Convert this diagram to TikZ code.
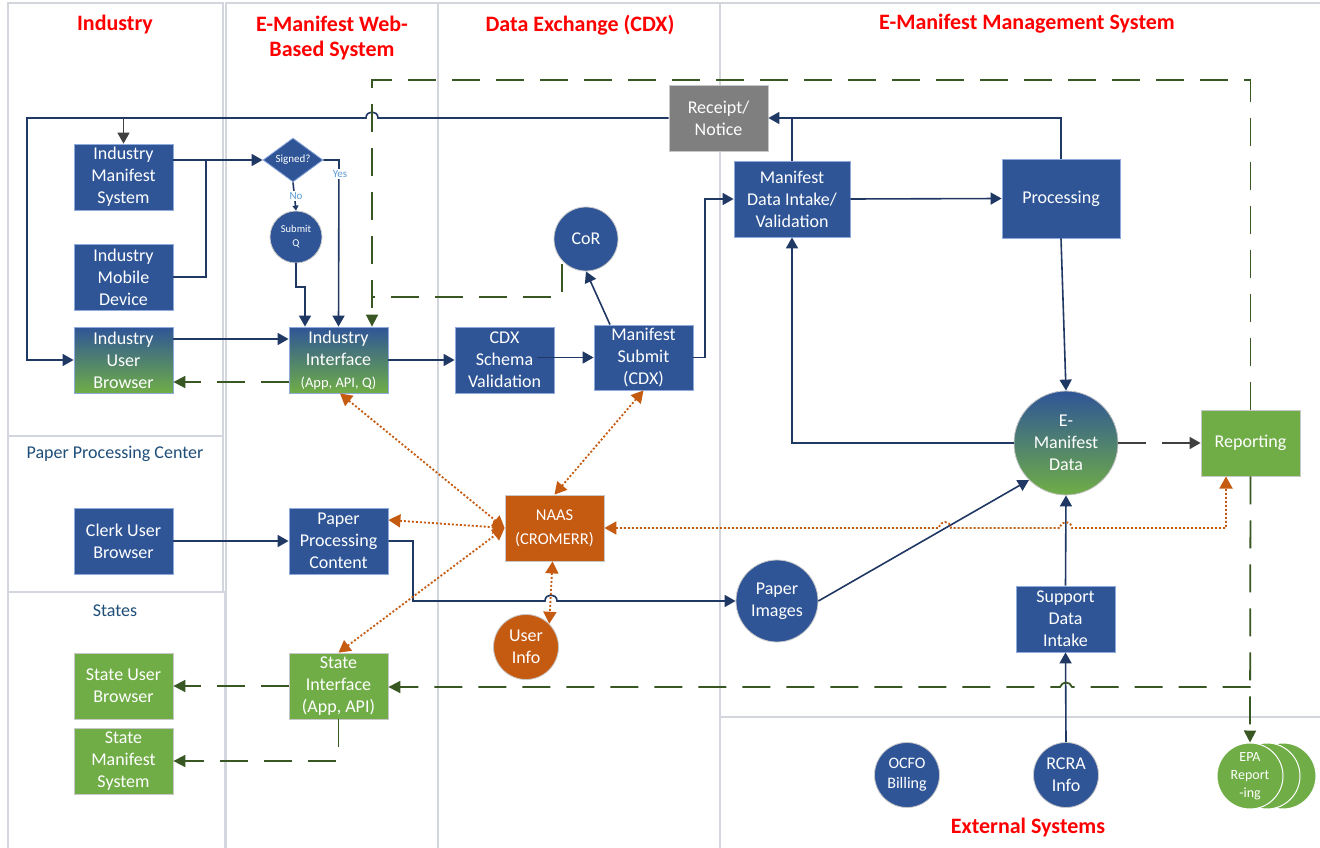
\documentclass[tikz,border=0pt]{standalone}
\usepackage{fontspec}
\setmainfont{Carlito}
\usetikzlibrary{arrows.meta,shapes.geometric,calc}
\definecolor{boxblue}{HTML}{2F5597}
\definecolor{boxgreen}{HTML}{70AD47}
\definecolor{boxorange}{HTML}{C55A11}
\definecolor{boxgrey}{HTML}{7F7F7F}
\definecolor{lineblue}{HTML}{203864}
\definecolor{linegreen}{HTML}{385723}
\definecolor{linegrey}{HTML}{404040}
\definecolor{lanegrey}{HTML}{D3D7DD}
\definecolor{titlered}{HTML}{FF0000}
\definecolor{lanetext}{HTML}{1F4E79}
\definecolor{labelblue}{HTML}{5B9BD5}
\definecolor{boxedge}{HTML}{8FAADC}
\definecolor{softedge}{HTML}{C8C8C8}
\tikzset{
  base/.style={inner sep=0pt, align=center, text=white, font=\fontsize{18}{22}\selectfont},
  bluebox/.style={base, rectangle, fill=boxblue, draw=boxedge, line width=0.8pt, minimum width=99pt, minimum height=66pt},
  greenbox/.style={bluebox, fill=boxgreen, draw=softedge},
  gradbox/.style={bluebox, top color=boxblue, bottom color=boxgreen},
  orangebox/.style={bluebox, fill=boxorange, draw=softedge},
  greybox/.style={bluebox, fill=boxgrey, draw=softedge},
  bluecirc/.style={base, circle, fill=boxblue, draw=softedge, line width=0.8pt},
  orangecirc/.style={bluecirc, fill=boxorange},
  greencirc/.style={bluecirc, fill=boxgreen, draw=white, line width=1pt},
  lane/.style={draw=lanegrey, line width=2pt},
  lanetitle/.style={text=titlered, font=\fontsize{22}{25}\selectfont\bfseries, align=center, inner sep=0pt},
  lanesub/.style={text=lanetext, font=\fontsize{18}{22}\selectfont, inner sep=0pt},
  yn/.style={fill=white, inner sep=1pt, text=labelblue, font=\fontsize{11}{13}\selectfont},
  bline/.style={draw=lineblue, line width=1.6pt},
  btip/.style={-{Triangle[length=11pt,width=12pt]}},
  gline/.style={draw=linegreen, line width=1.8pt, dash pattern=on 28pt off 16pt},
  gtip/.style={-{Triangle[length=12pt,width=12pt]}},
  kline/.style={draw=linegrey, line width=1.6pt, dash pattern=on 28pt off 16pt},
  oline/.style={draw=boxorange, line width=1.8pt, dash pattern=on 2pt off 2pt,
    {Triangle[length=12pt,width=13pt]}-{Triangle[length=12pt,width=13pt]}},
}
\begin{document}
\begin{tikzpicture}[x=1pt,y=-1pt]
\useasboundingbox (0,0) rectangle (1320,848);
\fill[white] (0,0) rectangle (1320,848);
% lanes
\draw[lane] (8,3) rectangle (223,436);
\draw[lane] (8,436) rectangle (223,592);
\draw[lane] (8,592) rectangle (225,852);
\draw[lane] (226,3) rectangle (438,852);
\draw[lane] (438,3) rectangle (720,852);
\draw[lane] (720,3) rectangle (1324,717);
\draw[lane] (720,717) rectangle (1324,852);
% lane titles
\node[lanetitle] (tind) at (115,25) {Industry};
\node[lanetitle] (tweb) at (332,38) {E-Manifest Web-\\Based System};
\node[lanetitle] (tcdx) at (580,25) {Data Exchange (CDX)};
\node[lanetitle] (tems) at (1027,24) {E-Manifest Management System};
\node[lanetitle] (text) at (1028,828) {External Systems};
\node[lanesub] (tppc) at (115,454) {Paper Processing Center};
\node[lanesub] (tsta) at (115,611) {States};

% nodes
\node[bluebox] (ims) at (123.5,177) {Industry\\Manifest\\System};
\node[bluebox] (imd) at (123.5,277) {Industry\\Mobile\\Device};
\node[gradbox] (iub) at (123.5,360) {Industry\\User\\Browser};
\node[base, diamond, aspect=1.36, fill=boxblue, draw=boxedge, line width=0.8pt, minimum width=60pt, minimum height=44pt, font=\fontsize{11}{13}\selectfont] (sig) at (293,160) {Signed?};
\node[bluecirc, minimum size=52pt, font=\fontsize{10.5}{14}\selectfont] (subq) at (296,237) {Submit\\Q};
\node[gradbox] (iif) at (338.5,360) {Industry\\Interface\\{\fontsize{14.5}{18}\selectfont (App, API, Q)}};
\node[bluebox] (cdx) at (504.5,360) {CDX\\Schema\\Validation};
\node[bluebox, minimum height=65pt] (msub) at (643.5,357.5) {Manifest\\Submit\\(CDX)};
\node[bluecirc, minimum size=64pt] (cor) at (586,239) {CoR};
\node[greybox] (rcpt) at (718.5,118) {Receipt/\\Notice};
\node[bluebox, minimum width=116pt, minimum height=76pt] (mdi) at (792,199) {Manifest\\Data Intake/\\Validation};
\node[bluebox, minimum width=118pt, minimum height=79pt] (proc) at (1061,198.5) {Processing};
\node[bluecirc, minimum size=104pt, top color=boxblue, bottom color=boxgreen] (emd) at (1066,443) {E-\\Manifest\\Data};
\node[greenbox] (rep) at (1250.5,443) {Reporting};
\node[orangebox, font=\fontsize{16.5}{24}\selectfont] (naas) at (554.5,528) {NAAS\\(CROMERR)};
\node[orangecirc, minimum size=65pt] (uinfo) at (526,647) {User\\Info};
\node[bluebox] (ppc) at (338.5,541) {Paper\\Processing\\Content};
\node[bluebox] (cub) at (123.5,541) {Clerk User\\Browser};
\node[bluecirc, minimum size=82pt] (pimg) at (777,601) {Paper\\Images};
\node[bluebox] (sdi) at (1065.5,619) {Support\\Data\\Intake};
\node[greenbox] (sub) at (123.5,686) {State User\\Browser};
\node[greenbox] (sms) at (123.5,761) {State\\Manifest\\System};
\node[greenbox] (sif) at (338.5,686) {State\\Interface\\(App, API)};
\node[bluecirc, minimum size=65pt, font=\fontsize{16}{20}\selectfont] (ocfo) at (907,775) {OCFO\\Billing};
\node[bluecirc, minimum size=65pt] (rcra) at (1066,775) {RCRA\\Info};
\node[greencirc, minimum size=66pt] (epa3) at (1283,776) {};
\node[greencirc, minimum size=66pt] (epa2) at (1267,776) {};
\node[greencirc, minimum size=66pt, font=\fontsize{14}{18}\selectfont] (epa) at (1250,776) {EPA\\Report\\-ing};

% blue top loop
\draw[bline, btip] (rcpt.west) -- (378,118) .. controls (378,110) and (366,110) .. (366,118) -- (27,118) -- (27,360) -- (iub.west);
\draw[draw=linegrey, line width=1.6pt, -{Triangle[length=11pt,width=12pt]}] (123.5,118) -- (ims.north);
\draw[bline, btip] (proc.north) -- (1061,118) -- (rcpt.east);
\draw[bline] (mdi.north) -- (792,118);
% industry to signed
\draw[bline, btip] (ims.east |- sig.west) -- (sig.west);
\draw[bline] (imd.east) -- (206,277) -- (206,160);
\draw[bline, btip] (sig.east) -- (339,160) -- (iif.north);
\node[yn] (yes) at (340,174) {Yes};
\draw[bline, -{Triangle[length=5pt,width=6pt]}] (sig.south) -- (subq.north);
\node[yn] (no) at (296,196) {No};
\draw[bline, btip] (subq.south) -- (296,287) -- (305,287) -- ([xshift=-33.5pt]iif.north);
\draw[bline, btip] ([yshift=21pt]iub.east) -- ([yshift=21pt]iif.west);
\draw[gline, gtip] ([yshift=-22pt]iif.west) -- ([yshift=-22pt]iub.east);
\draw[bline, btip] (iif.east) -- (cdx.west);
\draw[bline, btip] ([xshift=-17pt]cdx.east |- msub.west) -- (msub.west);
\draw[bline, btip] (msub.east) -- (705,357.5) -- (705,199) -- (mdi.west);
\draw[bline, btip] ([xshift=-33.5pt]msub.north) -- (cor.south);
\draw[bline, btip] (mdi.east) -- (proc.west);
\draw[bline, btip] (proc.south) -- (emd.north);
\draw[bline, btip] (emd.west) -- (792,443) -- (mdi.south);
\draw[kline, -{Triangle[length=11pt,width=12pt]}] (emd.east) -- (rep.west);
\draw[bline, btip] (pimg.east) -- (emd.225);
\draw[bline, btip] (sdi.north) -- (emd.south);
\draw[bline, btip] (rcra.north) -- (sdi.south);
\draw[bline, btip] (cub.east) -- (ppc.west);
\draw[bline, btip] (ppc.east) -- (413,541) -- (413,601) -- (545,601) .. controls (545,593) and (557,593) .. (557,601) -- (pimg.west);

% green dashed
\draw[gline, gtip] (rep.north) -- (1250.5,80) -- (372,80) -- ([xshift=33.5pt]iif.north);
\draw[gline] (562,264) -- (562,297) -- (372,297);
\draw[gline, gtip] (rep.south) -- (epa.north);
\draw[gline, gtip] (1250.5,687) -- (1072,687) .. controls (1070,681) and (1062,681) .. (1060,687) -- (sif.east |- 0,687);
\draw[gline, gtip] (sif.west) -- (sub.east);
\draw[gline, gtip] (sif.south) -- (338.5,761) -- (sms.east);

% orange dotted
\draw[oline] ([xshift=1.5pt]iif.south) -- (naas.west);
\draw[oline] ([yshift=21pt]ppc.east) -- (naas.west);
\draw[oline] (sif.north) -- (naas.west);
\draw[oline] (msub.south) -- (naas.north);
\draw[oline] ([xshift=-2pt]naas.south) -- (uinfo.north east);
\draw[oline] (naas.east) -- (939,528) .. controls (940,520) and (950,520) .. (951,528) -- (1060,528) .. controls (1061,520) and (1071,520) .. (1072,528) -- (1226,528) -- (1226,476.5);
\end{tikzpicture}
\end{document}
